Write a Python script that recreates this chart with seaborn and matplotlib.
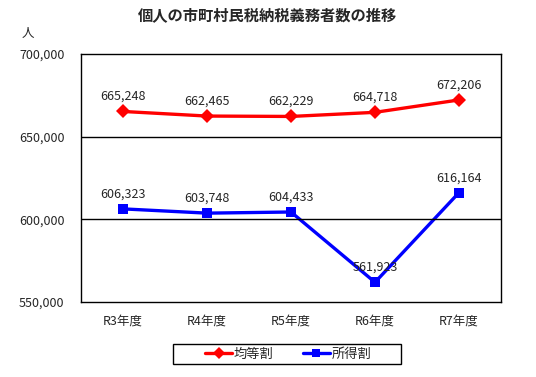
import numpy as np
import pandas as pd
import matplotlib
matplotlib.use('Agg')
import matplotlib.pyplot as plt
from matplotlib.patches import Rectangle
import seaborn as sns

years = ['R3年度', 'R4年度', 'R5年度', 'R6年度', 'R7年度']
kintou = [665248, 662465, 662229, 664718, 672206]
shotoku = [606323, 603748, 604433, 561923, 616164]
series_names = ['均等割', '所得割']
yticks = [550000, 600000, 650000, 700000]

sns.set_style('white')
plt.rcParams['font.family'] = ['Noto Sans CJK JP', 'DejaVu Sans']

df = pd.DataFrame({
    '年度': years * 2,
    'pos': list(range(len(years))) * 2,
    '人数': kintou + shotoku,
    '区分': [series_names[0]] * 5 + [series_names[1]] * 5,
})

fig = plt.figure(figsize=(5.36, 3.77), dpi=100)
ax = fig.add_axes([81 / 536, 1 - 302 / 377, 420 / 536, 248 / 377])

sns.lineplot(data=df, x='pos', y='人数', hue='区分', style='区分',
             palette=['#ff0000', '#0000ff'], markers=['D', 's'], dashes=False,
             markersize=7, linewidth=2.4, markeredgewidth=0, ax=ax, legend=False)

ax.set_xlim(-0.5, len(years) - 0.5)
ax.set_ylim(550000, 700000)
ax.set_yticks(yticks)
ax.set_yticklabels([f'{v:,}' for v in yticks], fontsize=9)
ax.set_xticks(range(len(years)))
ax.set_xticklabels(years, fontsize=9)
ax.set_xticks(np.arange(0.5, len(years) - 0.5, 1), minor=True)
ax.tick_params(axis='x', which='major', length=0, pad=9)
ax.tick_params(axis='x', which='minor', direction='in', length=5, width=1, color='black')
ax.tick_params(axis='y', length=0, pad=12)
ax.set_xlabel('')
ax.set_ylabel('')
for y in yticks[1:3]:
    ax.axhline(y, color='black', linewidth=1)
for sp in ax.spines.values():
    sp.set_color('black')
    sp.set_linewidth(1)

for vals in (kintou, shotoku):
    for i, v in enumerate(vals):
        ax.annotate(f'{v:,}', (i, v), xytext=(0, 6), textcoords='offset points',
                    ha='center', va='bottom', fontsize=9)

fig.text(0.5, 1 - 15 / 377, '個人の市町村民税納税義務者数の推移', ha='center', va='center',
         fontsize=11, fontweight='bold')
fig.text(28 / 536, 1 - 33 / 377, '人', ha='center', va='center', fontsize=9)

# legend box drawn separately for the wide padding
fig.patches.append(Rectangle((173 / 536, 1 - 364 / 377), 228 / 536, 20 / 377,
                             transform=fig.transFigure, fill=False,
                             edgecolor='black', linewidth=1))
handles = [plt.Line2D([], [], color='#ff0000', marker='D', markersize=6, linewidth=2.4, markeredgewidth=0),
           plt.Line2D([], [], color='#0000ff', marker='s', markersize=6, linewidth=2.4, markeredgewidth=0)]
leg = fig.legend(handles, series_names, loc='center', bbox_to_anchor=(288 / 536, 1 - 354 / 377),
                 ncol=2, fontsize=9.5, frameon=False, handlelength=2.1,
                 columnspacing=2.2, borderpad=0, handletextpad=0.1)

fig.savefig('out.png', dpi=100)
